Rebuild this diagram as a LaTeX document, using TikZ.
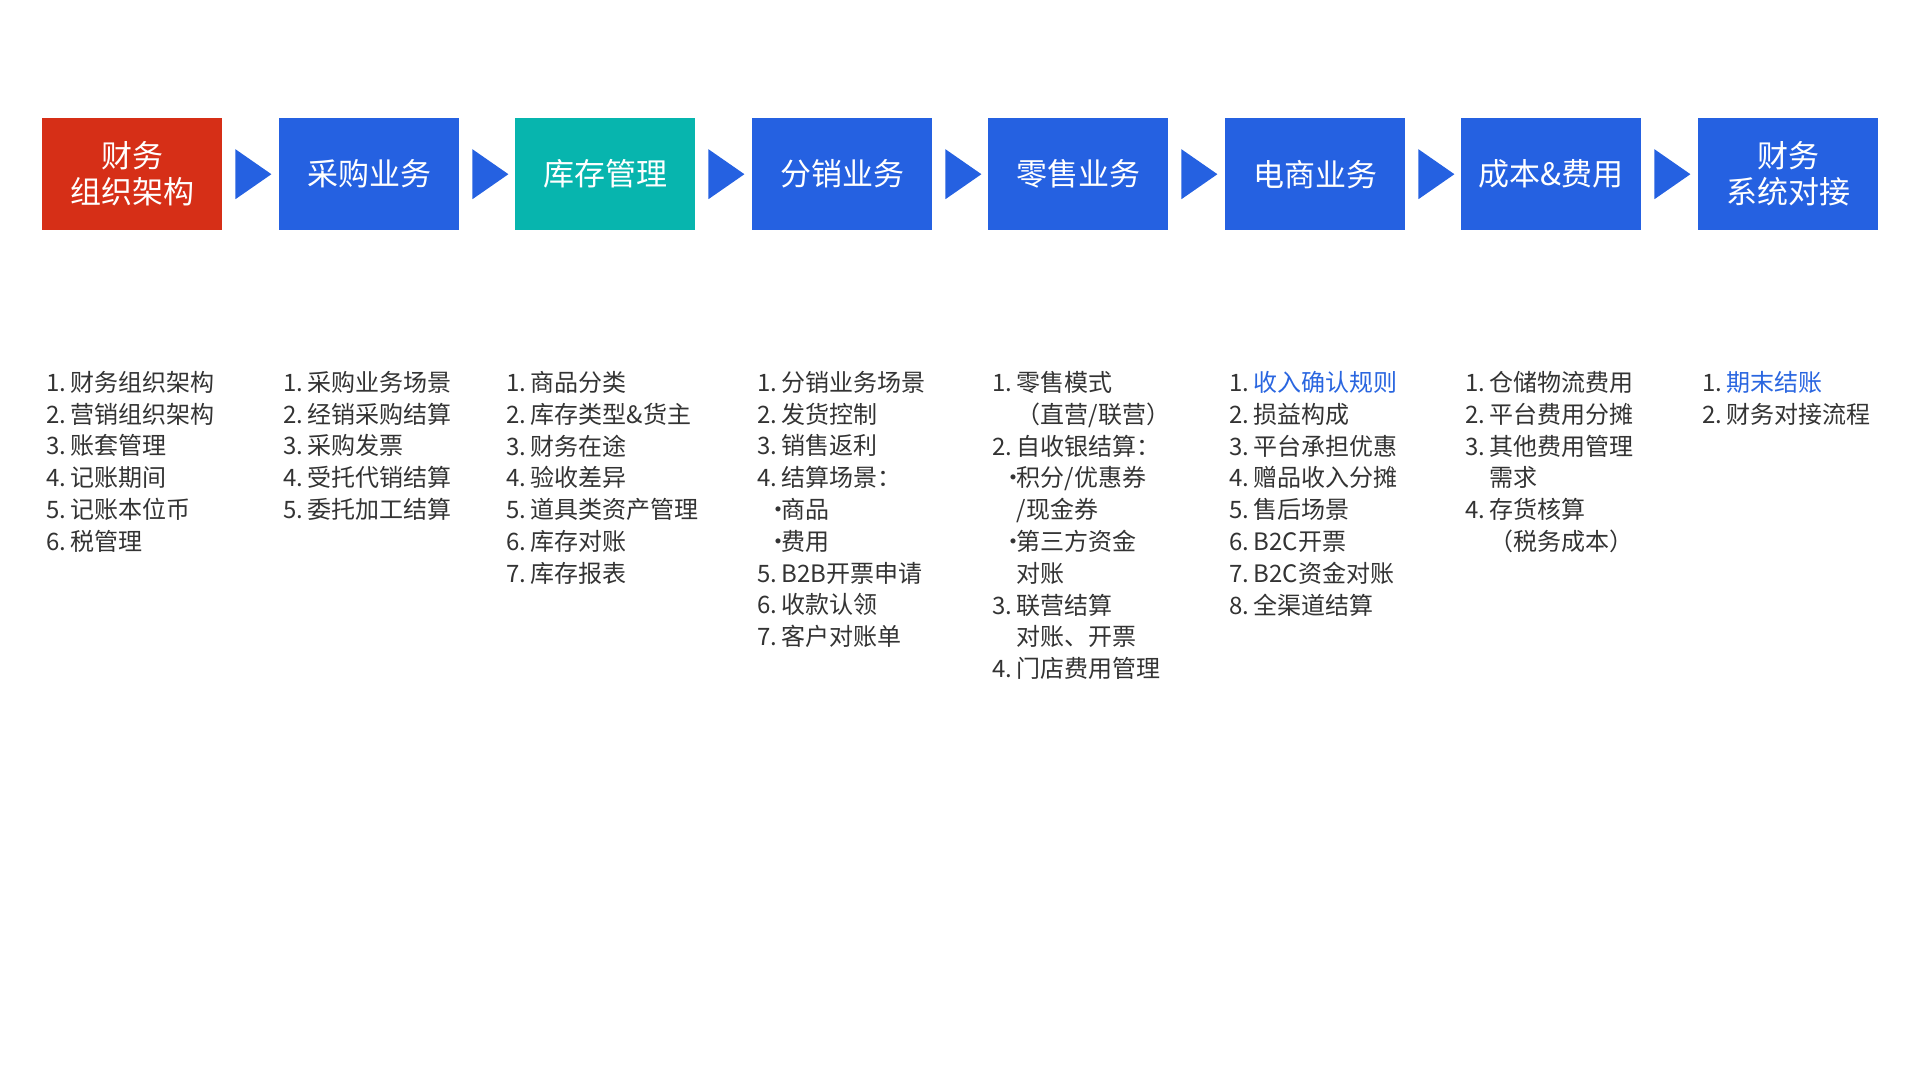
\documentclass[tikz,border=0pt]{standalone}
\usepackage{fontspec}
\setmainfont{Noto Sans CJK SC}
\usetikzlibrary{calc}
\definecolor{cred}{HTML}{D62F17}
\definecolor{cblue}{HTML}{2561E1}
\definecolor{cteal}{HTML}{07B5AE}
\definecolor{ctext}{HTML}{333333}
\definecolor{clink}{HTML}{2A66E0}
\newcommand{\nmb}[1]{\makebox[1.02em][l]{#1}}
\newcommand{\ind}{\hspace*{1.02em}}
\newcommand{\bul}{\makebox[1.02em][r]{\makebox[0.3em][c]{·}}}
\begin{document}
\begin{tikzpicture}[x=1pt,y=-1pt,
  box/.style={minimum width=180pt,minimum height=112pt,inner sep=0,text=white,font=\fontsize{31}{36}\selectfont,align=center,anchor=north west},
  lst/.style={anchor=north west,inner sep=0,text=ctext,align=left,font=\fontsize{24}{31.8}\selectfont},
  tri/.style={fill=cblue}]
\useasboundingbox (0,0) rectangle (1920,1080);
\node[box,fill=cred]  (b1) at (42,118) {财务\\组织架构};
\node[box,fill=cblue] (b2) at (279,118) {采购业务};
\node[box,fill=cteal] (b3) at (515,118) {库存管理};
\node[box,fill=cblue] (b4) at (752,118) {分销业务};
\node[box,fill=cblue] (b5) at (988,118) {零售业务};
\node[box,fill=cblue] (b6) at (1225,118) {电商业务};
\node[box,fill=cblue] (b7) at (1461,118) {成本\&费用};
\node[box,fill=cblue] (b8) at (1698,118) {财务\\系统对接};
\foreach \a/\b in {b1/b2,b2/b3,b3/b4,b4/b5,b5/b6,b6/b7,b7/b8}{
  \fill[tri] ($(\a.east)+(13,-25)$) -- ($(\a.east)+(49,0)$) -- ($(\a.east)+(13,25)$) -- cycle;
}
\node[lst] (l1) at (46,371) {\nmb{1.}财务组织架构\\\nmb{2.}营销组织架构\\\nmb{3.}账套管理\\\nmb{4.}记账期间\\\nmb{5.}记账本位币\\\nmb{6.}税管理};
\node[lst] (l2) at (283,371) {\nmb{1.}采购业务场景\\\nmb{2.}经销采购结算\\\nmb{3.}采购发票\\\nmb{4.}受托代销结算\\\nmb{5.}委托加工结算};
\node[lst] (l3) at (506,371) {\nmb{1.}商品分类\\\nmb{2.}库存类型\&货主\\\nmb{3.}财务在途\\\nmb{4.}验收差异\\\nmb{5.}道具类资产管理\\\nmb{6.}库存对账\\\nmb{7.}库存报表};
\node[lst] (l4) at (757,371) {\nmb{1.}分销业务场景\\\nmb{2.}发货控制\\\nmb{3.}销售返利\\\nmb{4.}结算场景：\\\bul 商品\\\bul 费用\\\nmb{5.}B2B开票申请\\\nmb{6.}收款认领\\\nmb{7.}客户对账单};
\node[lst] (l5) at (992,371) {\nmb{1.}零售模式\\\ind（直营/联营）\\\nmb{2.}自收银结算：\\\bul 积分/优惠券\\\ind /现金券\\\bul 第三方资金\\\ind 对账\\\nmb{3.}联营结算\\\ind 对账、开票\\\nmb{4.}门店费用管理};
\node[lst] (l6) at (1229,371) {\nmb{1.}\textcolor{clink}{收入确认规则}\\\nmb{2.}损益构成\\\nmb{3.}平台承担优惠\\\nmb{4.}赠品收入分摊\\\nmb{5.}售后场景\\\nmb{6.}B2C开票\\\nmb{7.}B2C资金对账\\\nmb{8.}全渠道结算};
\node[lst] (l7) at (1465,371) {\nmb{1.}仓储物流费用\\\nmb{2.}平台费用分摊\\\nmb{3.}其他费用管理\\\ind 需求\\\nmb{4.}存货核算\\\ind （税务成本）};
\node[lst] (l8) at (1702,371) {\nmb{1.}\textcolor{clink}{期末结账}\\\nmb{2.}财务对接流程};
\end{tikzpicture}
\end{document}
